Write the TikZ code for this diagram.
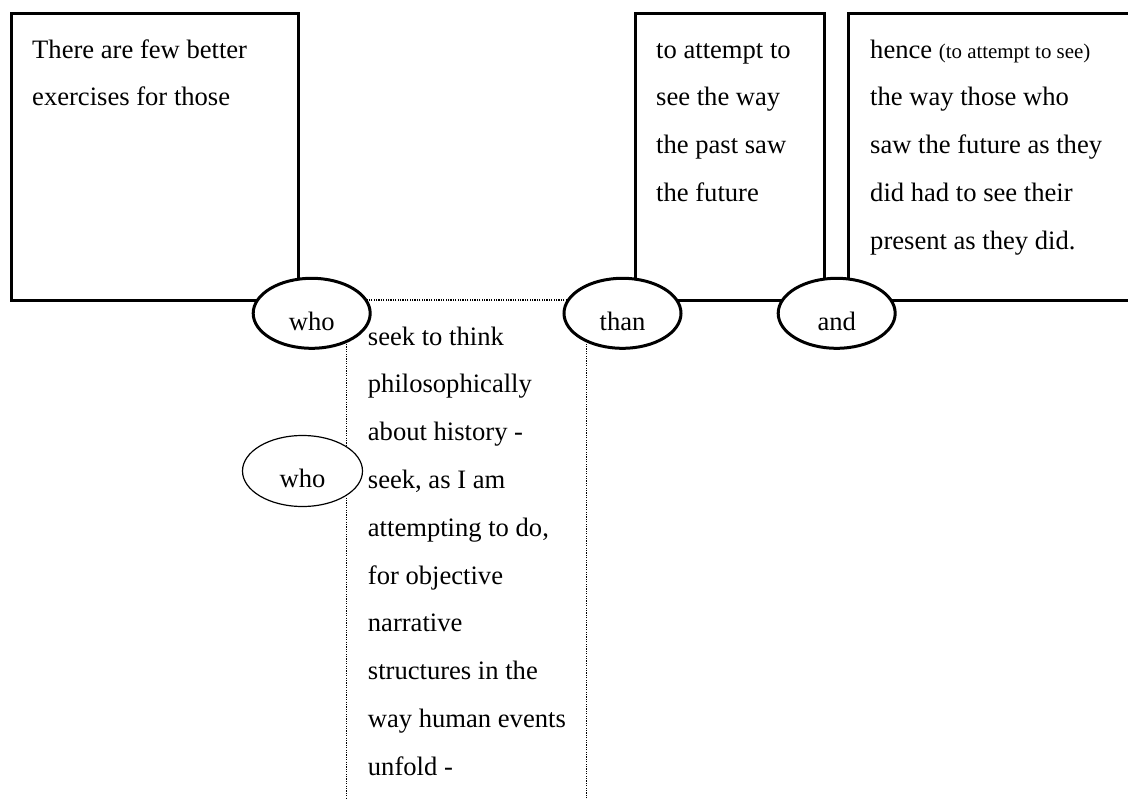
\documentclass[tikz,border=0pt]{standalone}
\usepackage{fontspec}
\setmainfont{Liberation Serif}
\usetikzlibrary{shapes.geometric}

\begin{document}
\begin{tikzpicture}[x=1pt,y=-1pt,font=\fontsize{26.6}{47.8}\selectfont]
      \tikzstyle{frame}=[draw,line width=3pt,inner sep=0pt]
      \tikzstyle{gap}=[draw,line width=1.2pt,dash pattern=on 1.2pt off 1.2pt,inner sep=0pt]
      \tikzstyle{joint}=[ellipse,draw,fill=white,line width=3pt,inner sep=0pt,minimum width=117pt,minimum height=70pt,text height=34pt,text depth=0pt]
      \tikzstyle{words}=[align=left,inner sep=0pt,anchor=north west]
      \clip (0,0) rectangle (1128,800);

      \node[frame,minimum width=286.7pt,minimum height=286.8pt] (B1) at (154.65,157.1) {};
      \node[frame,minimum width=189.4pt,minimum height=286.8pt] (B2) at (730,157.1) {};
      \node[frame,minimum width=300pt,minimum height=286.8pt] (B3) at (998.7,157.1) {};
      \node[gap,minimum width=240pt,minimum height=520pt] (G) at (466.8,560) {};

      \node[words] (T1) at (32,24.5) {\strut There are few better\\exercises for those};
      \node[words] (T2) at (656,24.5) {\strut to attempt to\\see the way\\the past saw\\the future};
      \node[words] (T3) at (870,24.5) {\strut hence {\fontsize{20.9}{25}\selectfont (to attempt to see)}\\the way those who\\saw the future as they\\did had to see their\\present as they did.};
      \node[words] (T4) at (367.7,311.5) {\strut seek to think\\philosophically\\about history -\\seek, as I am\\attempting to do,\\for objective\\narrative\\structures in the\\way human events\\unfold -};

      \node[joint] (who) at (311.7,313.3) {who};
      \node[joint] (than) at (622.5,313.3) {than};
      \node[joint] (and) at (836.7,313.3) {and};
      \node[joint,line width=1.2pt,minimum width=120pt,minimum height=71pt,text height=33pt] (who2) at (302.5,471) {who};
    \end{tikzpicture}
\end{document}
